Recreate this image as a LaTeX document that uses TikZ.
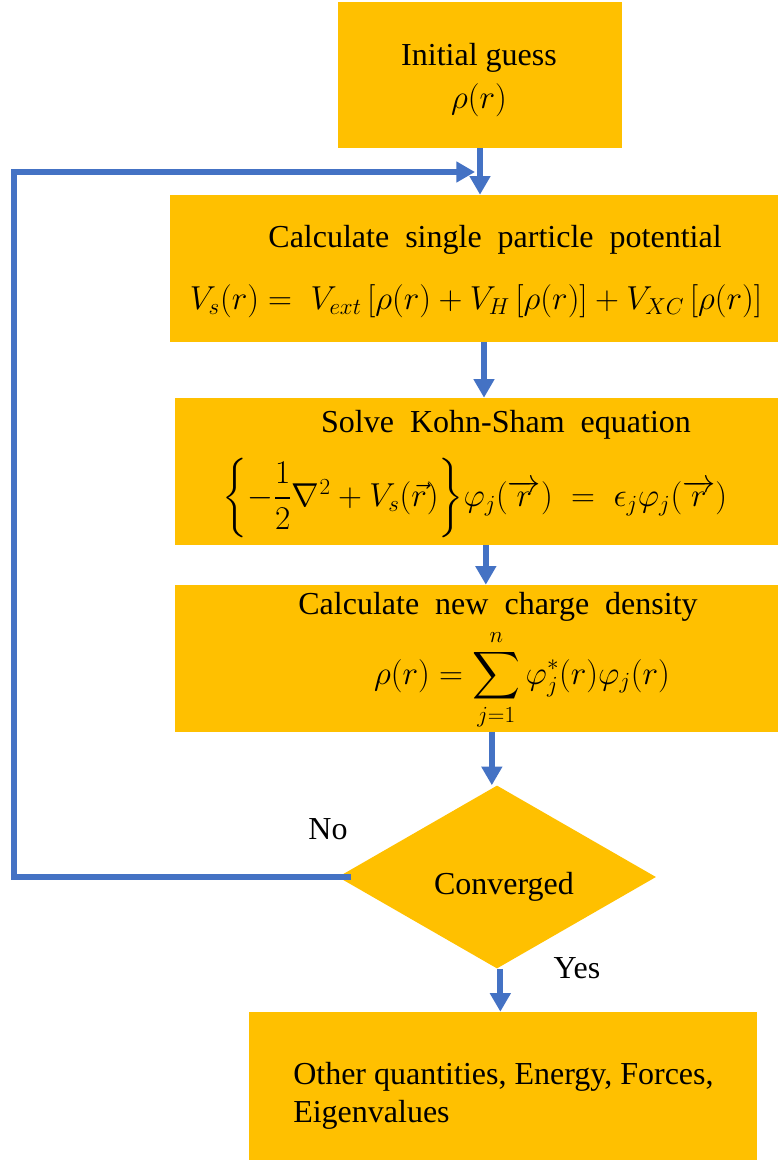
\documentclass[tikz,border=0pt]{standalone}
\usepackage{amsmath}
\usepackage{fontspec}
\setmainfont{Liberation Serif}
\usetikzlibrary{arrows.meta,shapes.geometric}
\definecolor{scfGold}{HTML}{FFC000}
\definecolor{scfBlue}{HTML}{4472C4}
\tikzset{
  scf box/.style={fill=scfGold, inner sep=0pt},
  scf test/.style={diamond, fill=scfGold, inner sep=0pt},
  scf text/.style={font=\fontsize{24}{28.8}\selectfont, inner sep=0pt},
  scf math/.style={font=\fontsize{25}{30}\selectfont, inner sep=0pt},
  scf flow/.style={draw=scfBlue, line width=4.5pt, -{Triangle[length=14pt,width=15pt]}},
}
\begin{document}
\begin{tikzpicture}[x=0.75pt,y=-0.75pt]
  \useasboundingbox (0,0) rectangle (780,1163);
  % Boxes of the cycle
  \node[scf box, minimum width=213pt, minimum height=109.5pt] (guess) at (480,75) {};
  \node[scf box, minimum width=456pt, minimum height=110.25pt] (pot) at (474,268.5) {};
  \node[scf box, minimum width=452.25pt, minimum height=110.25pt] (ks) at (476.5,471.5) {};
  \node[scf box, minimum width=452.25pt, minimum height=110.25pt] (dens) at (476.5,658.5) {};
  \node[scf test, minimum width=238.5pt, minimum height=137.25pt] (conv) at (497,877) {};
  \node[scf box, minimum width=381pt, minimum height=111pt] (other) at (503,1086) {};
  % Texts
  \node[scf text] (guesstitle) at (479,58) {Initial guess};
  \node[scf math] (guessrho) at (479,100) {$\rho(r)$};
  \node[scf text] (pottitle) at (495,240) {Calculate\ \ single\ \ particle\ \ potential};
  \node[scf math] (poteq) at (476,301) {$V_s(r) =\; V_{ext}\,[\rho(r) + V_H\,[\rho(r)] + V_{XC}\,[\rho(r)]$};
  \node[scf text] (kstitle) at (506,425) {Solve\ \ Kohn-Sham\ \ equation};
  \node[scf math] (kseq) at (475,498) {$\biggl\{-\dfrac{1}{2}\nabla^2 + V_s(\vec{r})\biggr\}\varphi_j(\overrightarrow{r}) \;=\; \epsilon_j\varphi_j(\overrightarrow{r})$};
  \node[scf text] (denstitle) at (498,607) {Calculate\ \ new\ \ charge\ \ density};
  \node[scf math, anchor=base] (denseq) at (522,684) {$\displaystyle\rho(r) = \sum_{j=1}^{n}\varphi_j^{*}(r)\varphi_j(r)$};
  \node[scf text] (convtext) at (504,887) {Converged};
  \node[scf text, align=left, anchor=west] (othertext) at (293,1096) {Other quantities, Energy, Forces,\\Eigenvalues};
  \node[scf text] (no) at (328,829) {No};
  \node[scf text] (yes) at (577,968) {Yes};
  % Connectors
  \coordinate (back) at (14,172);
  \coordinate (merge) at (475,172);
  \draw[scf flow] (guess.south) -- (guess.south |- pot.north);
  \draw[scf flow] ([xshift=7.5pt]pot.south) -- ([xshift=7.5pt]pot.south |- ks.north);
  \draw[scf flow] ([xshift=7pt]ks.south) -- ([xshift=7pt]ks.south |- dens.north);
  \draw[scf flow] ([xshift=11.5pt]dens.south) -- ([xshift=11.5pt]dens.south |- conv.north);
  \draw[scf flow] ([xshift=2.5pt]conv.south) -- ([xshift=2.5pt]conv.south |- other.north);
  \draw[scf flow] ([xshift=10pt]conv.west) -| (back) -- (merge);
\end{tikzpicture}
\end{document}
